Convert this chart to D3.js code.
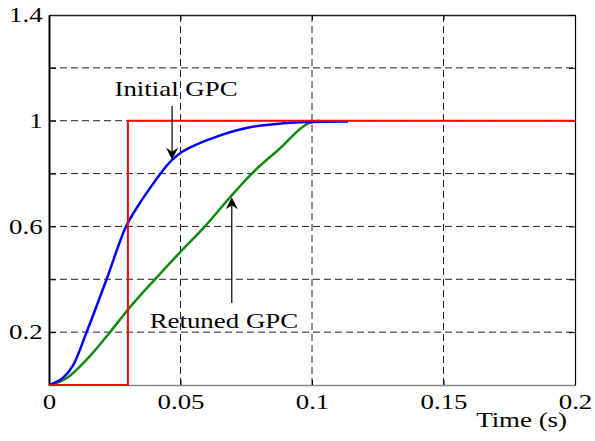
<!DOCTYPE html>
<html>
<head>
<meta charset="utf-8">
<script src="https://cdn.jsdelivr.net/npm/d3@7/dist/d3.min.js"></script>
<style>
  body { margin: 0; background: #fff; }
  text { font-family: "Liberation Serif", "Times New Roman", serif; fill: #000; }
</style>
</head>
<body>
<div id="chart"></div>
<script>
//Datos
const stepTime = [0, 0.03, 0.2],
    stepValue = [0, 1, 1];

const initialTime = [0, 0.0023, 0.0054, 0.0092, 0.0143, 0.0219, 0.0293, 0.034, 0.0384, 0.0468, 0.05, 0.055, 0.0638, 0.0764, 0.089, 0.098, 0.1137],
    initialGpc = [0, 0.009, 0.028, 0.075, 0.2, 0.4, 0.6, 0.68, 0.745, 0.852, 0.878, 0.905, 0.94, 0.975, 0.99, 0.995, 0.997];

const retunedTime = [0, 0.004, 0.008, 0.012, 0.0156, 0.0232, 0.03, 0.0403, 0.05, 0.0593, 0.0688, 0.0771, 0.0878, 0.0986, 0.103],
    retunedGpc = [0, 0.012, 0.035, 0.072, 0.11, 0.2, 0.285, 0.4, 0.504, 0.6, 0.71, 0.8, 0.895, 0.99, 1.0];

const xTicks = [0, 0.05, 0.1, 0.15, 0.2],
    yTicks = [0.2, 0.6, 1, 1.4],
    yTickMarks = [0.2, 0.4, 0.6, 0.8, 1, 1.2, 1.4],
    yGrid = [0.2, 0.4, 0.6, 0.8, 1, 1.2],
    xGrid = [0.05, 0.1, 0.15];

const COLOR_STEP = '#FF0000', COLOR_INITIAL = '#0000FF', COLOR_RETUNED = '#108A10';
const SX = 1.28; //texto estirado horizontalmente

let margin = {top: 15, right: 20, bottom: 56, left: 49},
    width = 595 - margin.left - margin.right,
    height = 441 - margin.top - margin.bottom;

let svg = d3.select('#chart')
    .append('svg')
        .attr('width', width + margin.left + margin.right)
        .attr('height', height + margin.top + margin.bottom)
    .append('g')
        .attr('transform', 'translate(' + margin.left + ',' + margin.top + ')');

let x = d3.scaleLinear().domain([0, 0.2]).range([0, width]);
let y = d3.scaleLinear().domain([0, 1.4]).range([height, 0]);

//Rejilla
svg.append('g')
    .selectAll('line')
    .data(yGrid)
    .enter()
    .append('line')
    .attr('x1', 0).attr('x2', width)
    .attr('y1', d => y(d)).attr('y2', d => y(d))
    .attr('stroke', '#222').attr('stroke-width', 1).attr('stroke-dasharray', '7,4');

svg.append('g')
    .selectAll('line')
    .data(xGrid)
    .enter()
    .append('line')
    .attr('y1', 0).attr('y2', height)
    .attr('x1', d => x(d)).attr('x2', d => x(d))
    .attr('stroke', '#222').attr('stroke-width', 1).attr('stroke-dasharray', '7,4');

//Ejes (marcas hacia dentro)
let xAxis = svg.append('g')
    .attr('transform', 'translate(0,' + height + ')')
    .call(d3.axisBottom(x).tickValues(xTicks).tickFormat(d => String(d)).tickSizeInner(-5).tickSizeOuter(0).tickPadding(9));
xAxis.select('.domain').attr('stroke', '#888').attr('stroke-width', 1.5);

let yAxis = svg.append('g')
    .call(d3.axisLeft(y).tickValues(yTickMarks)
        .tickFormat(d => yTicks.includes(d) ? String(d) : '')
        .tickSizeInner(-7).tickSizeOuter(0).tickPadding(5));
yAxis.select('.domain').attr('stroke', '#000').attr('stroke-width', 2);

svg.selectAll('.tick text')
    .attr('font-size', 21)
    .attr('transform', 'scale(' + SX + ',1)');

let topAxis = svg.append('g')
    .call(d3.axisTop(x).tickValues(xTicks).tickFormat('').tickSizeInner(-5).tickSizeOuter(0));
topAxis.select('.domain').attr('stroke', '#222').attr('stroke-width', 1.5);

let rightAxis = svg.append('g')
    .attr('transform', 'translate(' + width + ',0)')
    .call(d3.axisRight(y).tickValues(yTickMarks).tickFormat('').tickSizeInner(-6).tickSizeOuter(0));
rightAxis.select('.domain').attr('stroke', '#000').attr('stroke-width', 1.2);

//Series
function series(tArr, vArr) {
    return tArr.map((t, i) => ({t: t, v: vArr[i]}));
}

let line = d3.line().x(d => x(d.t)).y(d => y(d.v)).curve(d3.curveMonotoneX);

svg.append('path')
    .datum(series(retunedTime, retunedGpc))
    .attr('fill', 'none').attr('stroke', COLOR_RETUNED).attr('stroke-width', 2.5)
    .attr('d', line);

svg.append('path')
    .datum(series(initialTime, initialGpc))
    .attr('fill', 'none').attr('stroke', COLOR_INITIAL).attr('stroke-width', 2.5)
    .attr('d', line);

svg.append('path')
    .datum(series(stepTime, stepValue))
    .attr('fill', 'none').attr('stroke', COLOR_STEP).attr('stroke-width', 2)
    .attr('d', d3.line().x(d => x(d.t)).y(d => y(d.v)).curve(d3.curveStepAfter));

//Anotaciones
function arrow(t, v0, v1) {
    let px = x(t), py0 = y(v0), py1 = y(v1);
    let dir = py1 > py0 ? 1 : -1;
    svg.append('line')
        .attr('x1', px).attr('x2', px)
        .attr('y1', py0).attr('y2', py1 - dir * 6)
        .attr('stroke', '#000').attr('stroke-width', 1.2);
    svg.append('path')
        .attr('d', 'M' + px + ',' + py1 +
            'L' + (px - 6) + ',' + (py1 - dir * 12) +
            'L' + px + ',' + (py1 - dir * 8) +
            'L' + (px + 6) + ',' + (py1 - dir * 12) + 'Z')
        .attr('fill', '#000');
}

function label(txt, t, v) {
    svg.append('text')
        .attr('transform', 'translate(' + x(t) + ',' + y(v) + ') scale(' + SX + ',1)')
        .attr('text-anchor', 'middle')
        .attr('font-size', 21)
        .text(txt);
}

arrow(0.0468, 1.056, 0.852);
label('Initial GPC', 0.0483, 1.093);

arrow(0.0695, 0.31, 0.71);
label('Retuned GPC', 0.0665, 0.216);

svg.append('text')
    .attr('transform', 'translate(' + (width - 8) + ',' + (height + 42) + ') scale(' + SX + ',1)')
    .attr('text-anchor', 'end')
    .attr('font-size', 21)
    .text('Time (s)');
</script>
</body>
</html>
